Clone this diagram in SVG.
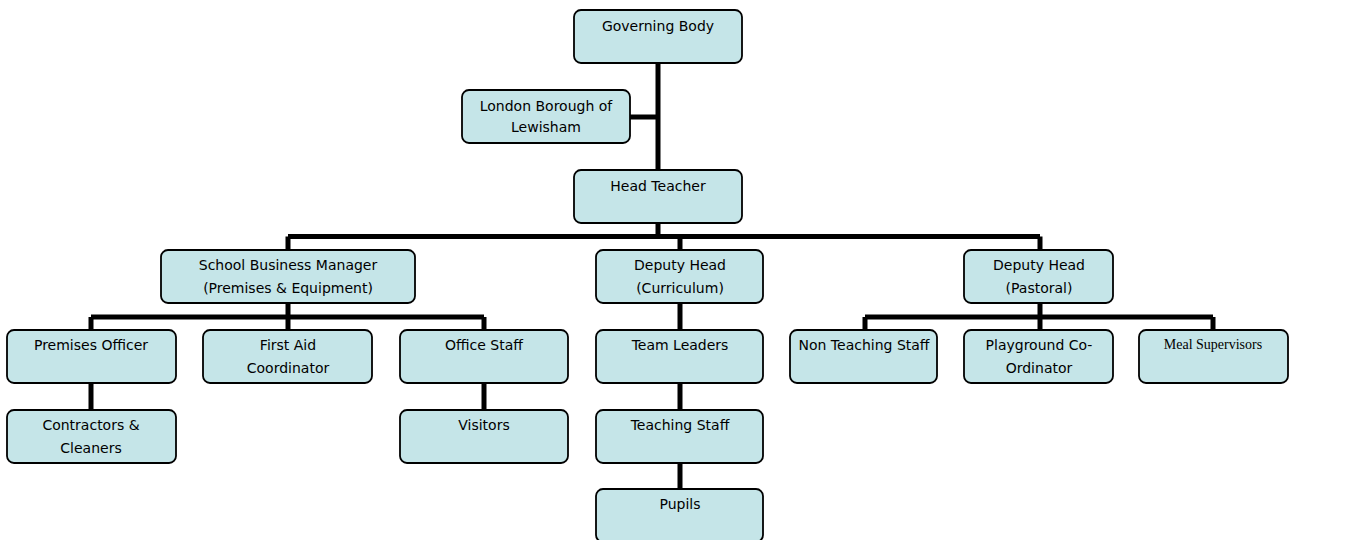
<svg xmlns="http://www.w3.org/2000/svg" width="1357" height="540" viewBox="0 0 1357 540">
<style>
.box{fill:#c5e5e8;stroke:#000;stroke-width:1.8}
.t{font-family:"DejaVu Sans",sans-serif;font-size:14px;fill:#000;text-anchor:middle}
.s{font-family:"Liberation Serif",serif;font-size:14px;fill:#000;text-anchor:middle}
.c{fill:none;stroke:#000;stroke-width:5}
</style>
<rect width="1357" height="540" fill="#fff"/>
<g id="connectors">
<path class="c" d="M658 63V170M630 117H658M658 223V236.5M288 236.5H1040M288 236.5V250M680 236.5V250M1040 236.5V250"/>
<path class="c" d="M288 303V330M91 317H484M91 317V330M484 317V330M91 383V410M484 383V410"/>
<path class="c" d="M680 303V330M680 383V410M680 463V489"/>
<path class="c" d="M1040 303V330M865 317H1213M865 317V330M1213 317V330"/>
</g>
<g id="governing-body"><rect class="box" x="574" y="10" width="168" height="53" rx="7"/><text class="t" x="658" y="31">Governing Body</text></g>
<g id="london-borough"><rect class="box" x="462" y="90" width="168" height="53" rx="7"/><text class="t" x="546" y="111">London Borough of</text><text class="t" x="546" y="132">Lewisham</text></g>
<g id="head-teacher"><rect class="box" x="574" y="170" width="168" height="53" rx="7"/><text class="t" x="658" y="191">Head Teacher</text></g>
<g id="sbm"><rect class="box" x="161" y="250" width="254" height="53" rx="7"/><text class="t" x="288" y="270">School Business Manager</text><text class="t" x="288" y="293">(Premises &amp; Equipment)</text></g>
<g id="deputy-curriculum"><rect class="box" x="596" y="250" width="167" height="53" rx="7"/><text class="t" x="680" y="270">Deputy Head</text><text class="t" x="680" y="293">(Curriculum)</text></g>
<g id="deputy-pastoral"><rect class="box" x="964" y="250" width="149" height="53" rx="7"/><text class="t" x="1039" y="270">Deputy Head</text><text class="t" x="1039" y="293">(Pastoral)</text></g>
<g id="premises-officer"><rect class="box" x="7" y="330" width="169" height="53" rx="7"/><text class="t" x="91" y="350">Premises Officer</text></g>
<g id="first-aid"><rect class="box" x="203" y="330" width="169" height="53" rx="7"/><text class="t" x="288" y="350">First Aid</text><text class="t" x="288" y="373">Coordinator</text></g>
<g id="office-staff"><rect class="box" x="400" y="330" width="168" height="53" rx="7"/><text class="t" x="484" y="350">Office Staff</text></g>
<g id="team-leaders"><rect class="box" x="596" y="330" width="167" height="53" rx="7"/><text class="t" x="680" y="350">Team Leaders</text></g>
<g id="non-teaching"><rect class="box" x="790" y="330" width="147" height="53" rx="7"/><text class="t" x="864" y="350">Non Teaching Staff</text></g>
<g id="playground"><rect class="box" x="964" y="330" width="149" height="53" rx="7"/><text class="t" x="1039" y="350">Playground Co-</text><text class="t" x="1039" y="373">Ordinator</text></g>
<g id="meal-supervisors"><rect class="box" x="1139" y="330" width="149" height="53" rx="7"/><text class="s" x="1213" y="349">Meal Supervisors</text></g>
<g id="contractors"><rect class="box" x="7" y="410" width="169" height="53" rx="7"/><text class="t" x="91" y="430">Contractors &amp;</text><text class="t" x="91" y="453">Cleaners</text></g>
<g id="visitors"><rect class="box" x="400" y="410" width="168" height="53" rx="7"/><text class="t" x="484" y="430">Visitors</text></g>
<g id="teaching-staff"><rect class="box" x="596" y="410" width="167" height="53" rx="7"/><text class="t" x="680" y="430">Teaching Staff</text></g>
<g id="pupils"><rect class="box" x="596" y="489" width="167" height="53" rx="7"/><text class="t" x="680" y="509">Pupils</text></g>
</svg>
